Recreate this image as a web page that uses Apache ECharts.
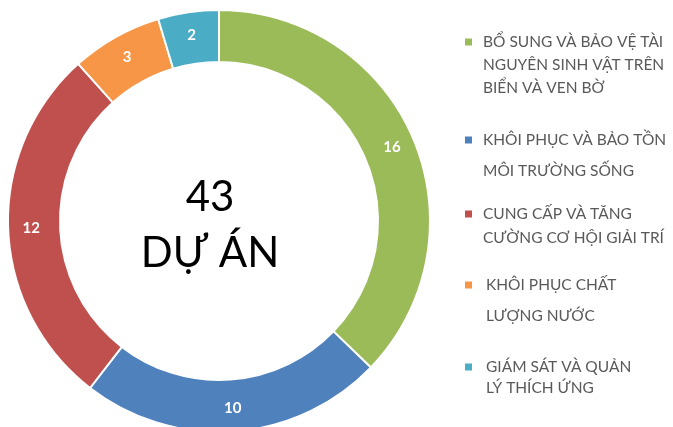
<!DOCTYPE html>
<html>
<head>
<meta charset="utf-8">
<script src="https://cdn.jsdelivr.net/npm/echarts@6/dist/echarts.min.js"></script>
<style>
  html, body { margin: 0; padding: 0; background: #fff; }
  #chart_projects { width: 673px; height: 427px; }
</style>
</head>
<body>
<div id="chart_projects"></div>
<script>
// categories, in clockwise order from 12 o'clock
const categories = [
  "BỔ SUNG VÀ BẢO VỆ TÀI\nNGUYÊN SINH VẬT TRÊN\nBIỂN VÀ VEN BỜ",
  "KHÔI PHỤC VÀ BẢO TỒN\nMÔI TRƯỜNG SỐNG",
  "CUNG CẤP VÀ TĂNG\nCƯỜNG CƠ HỘI GIẢI TRÍ",
  "KHÔI PHỤC CHẤT\nLƯỢNG NƯỚC",
  "GIÁM SÁT VÀ QUẢN\nLÝ THÍCH ỨNG",
];
const projectCounts = [16, 10, 12, 3, 2];
const colors = ["#9BBB59", "#4F81BD", "#C0504D", "#F79646", "#4BACC6"];
const totalLabel = ["43", "DỰ ÁN"];

// legend layout (line centre of first line, line spacing)
const legendTop = [42, 140, 214, 285, 367];
const legendLineGap = [23, 31, 24, 31, 21];
const legendTextX = [483, 483, 483, 486, 486];

const chart = echarts.init(document.getElementById("chart_projects"));

const legendGraphics = [];
categories.forEach((name, i) => {
  legendGraphics.push({
    type: "rect",
    shape: { x: 465, y: legendTop[i] - 3.5, width: 7, height: 7 },
    style: { fill: colors[i] },
  });
  name.split("\n").forEach((line, j) => {
    legendGraphics.push({
      type: "text",
      x: legendTextX[i],
      y: legendTop[i] + j * legendLineGap[i],
      style: {
        text: line,
        fill: "#595959",
        font: "15.5px Lato",
        textVerticalAlign: "middle",
      },
    });
  });
});

const option = {
  backgroundColor: "#ffffff",
  animation: false,
  series: [
    {
      type: "pie",
      center: [219, 221],
      radius: [159, 211],
      startAngle: 90,
      clockwise: true,
      data: projectCounts.map((v, i) => ({
        name: categories[i],
        value: v,
        itemStyle: { color: colors[i] },
      })),
      itemStyle: { borderColor: "#ffffff", borderWidth: 2 },
      label: {
        show: true,
        position: "inside",
        formatter: "{c}",
        color: "#ffffff",
        fontFamily: "Lato",
        fontWeight: "bold",
        fontSize: 15,
      },
      labelLine: { show: false },
    },
  ],
  graphic: [
    {
      type: "text",
      x: 210,
      y: 197,
      style: {
        text: totalLabel[0],
        fill: "#000000",
        font: "42px Lato",
        textAlign: "center",
        textVerticalAlign: "middle",
      },
    },
    {
      type: "text",
      x: 210,
      y: 253,
      style: {
        text: totalLabel[1],
        fill: "#000000",
        font: "42px Lato",
        textAlign: "center",
        textVerticalAlign: "middle",
      },
    },
    ...legendGraphics,
  ],
};
chart.setOption(option);
</script>
</body>
</html>
